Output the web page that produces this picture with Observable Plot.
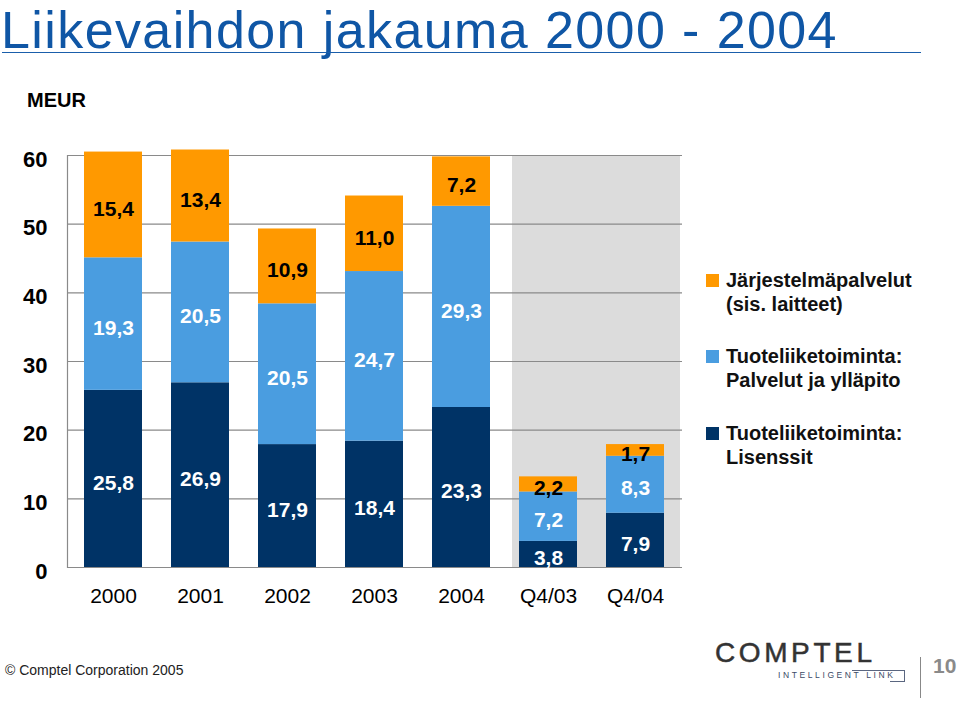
<!DOCTYPE html>
<html>
<head>
<meta charset="utf-8">
<script src="https://cdn.jsdelivr.net/npm/d3@7"></script>
<script src="https://cdn.jsdelivr.net/npm/@observablehq/plot@0.6"></script>
<style>
  html, body { margin: 0; padding: 0; background: #fff; }
  body { width: 960px; height: 701px; position: relative; overflow: hidden; font-family: "Liberation Sans", Arial, sans-serif; }
  .abs { position: absolute; white-space: nowrap; }
  #title { left: 1px; top: 4px; font-size: 52px; line-height: 52px; letter-spacing: 1.4px; color: #0f56a5; }
  #rule { left: 2px; top: 52px; width: 919px; height: 0; border-top: 1.5px solid #1a5eab; }
  #meur { left: 27px; top: 89px; font-size: 20px; font-weight: bold; color: #000; }
  #chart { position: absolute; left: 0; top: 0; }
  .leg { position: absolute; left: 706px; font-size: 20px; font-weight: bold; color: #111; line-height: 24px; }
  .leg .sw { position: absolute; left: 0; top: 6px; width: 13px; height: 13px; }
  .leg .tx { position: absolute; left: 20px; top: 0; white-space: nowrap; }
  #copy { left: 5px; top: 662px; font-size: 14px; color: #222; }
  #logo { left: 715px; top: 639px; font-size: 28px; line-height: 28px; color: #333; letter-spacing: 3.6px; -webkit-text-stroke: 0.5px #333; }
  #tag { left: 778px; top: 670px; font-size: 8.5px; line-height: 10px; color: #3b4a66; letter-spacing: 2.6px; }
  #box { left: 852px; top: 670px; width: 52px; height: 11px; border-top: 1px solid #5a6680; border-right: 1px solid #5a6680; }
  #boxb { left: 890px; top: 681px; width: 15px; height: 0; border-top: 1px solid #5a6680; }
  #sep { left: 920px; top: 657px; width: 0; height: 41px; border-left: 1px solid #888; }
  #page { left: 933px; top: 655px; font-size: 21px; line-height: 21px; font-weight: bold; color: #8a8a8a; }
</style>
</head>
<body>
<div id="chart"></div>
<div class="abs" id="title">Liikevaihdon jakauma 2000 - 2004</div>
<div class="abs" id="rule"></div>
<div class="abs" id="meur">MEUR</div>
<div id="legend"></div>
<div class="abs" id="copy">© Comptel Corporation 2005</div>
<div class="abs" id="logo">COMPTEL</div>
<div class="abs" id="tag">INTELLIGENT LINK</div>
<div class="abs" id="box"></div>
<div class="abs" id="boxb"></div>
<div class="abs" id="sep"></div>
<div class="abs" id="page">10</div>
<script>
// ---- data ----
const categories = ["2000", "2001", "2002", "2003", "2004", "Q4/03", "Q4/04"];
const seriesNames = ["Tuoteliiketoiminta: Lisenssit", "Tuoteliiketoiminta: Palvelut ja ylläpito", "Järjestelmäpalvelut (sis. laitteet)"];
const lisenssit = [25.8, 26.9, 17.9, 18.4, 23.3, 3.8, 7.9];
const palvelut = [19.3, 20.5, 20.5, 24.7, 29.3, 7.2, 8.3];
const jarjestelma = [15.4, 13.4, 10.9, 11.0, 7.2, 2.2, 1.7];
const yTicks = [0, 10, 20, 30, 40, 50, 60];
const quarterCats = ["Q4/03", "Q4/04"];
const legendLines = [
  ["Järjestelmäpalvelut", "(sis. laitteet)"],
  ["Tuoteliiketoiminta:", "Palvelut ja ylläpito"],
  ["Tuoteliiketoiminta:", "Lisenssit"]
];

const colors = ["#003366", "#4a9de0", "#ff9900"];

const rows = [];
categories.forEach((c, i) => {
  rows.push({cat: c, series: seriesNames[0], value: lisenssit[i]});
  rows.push({cat: c, series: seriesNames[1], value: palvelut[i]});
  rows.push({cat: c, series: seriesNames[2], value: jarjestelma[i]});
});
const fmt = v => v.toFixed(1).replace(".", ",");

const chart = Plot.plot({
  width: 960,
  height: 620,
  marginLeft: 67,
  marginRight: 278,
  marginTop: 155,
  marginBottom: 53,
  style: {fontFamily: "'Liberation Sans', Arial, sans-serif", background: "transparent", overflow: "visible"},
  x: {domain: categories, paddingInner: 0.33, paddingOuter: 0.165, align: 0.5, axis: null},
  y: {domain: [0, 60], axis: null},
  color: {domain: seriesNames, range: colors},
  marks: [
    Plot.barY([quarterCats[0]], {x: d => d, y1: 0, y2: 60, fill: "#dcdcdc", insetLeft: -7, insetRight: -15}),
    Plot.barY([quarterCats[1]], {x: d => d, y1: 0, y2: 60, fill: "#dcdcdc", insetLeft: -15, insetRight: -16}),
    Plot.ruleY(yTicks, {stroke: "#8a8a8a", strokeWidth: 1.2}),
    Plot.frame({anchor: "left", stroke: "#8a8a8a", strokeWidth: 1.2}),
    Plot.barY(rows, {x: "cat", y: "value", fill: "series", order: seriesNames}),
    Plot.text(rows.filter(r => r.series !== seriesNames[2]), Plot.stackY({
      x: "cat", y: "value", z: "series", order: seriesNames, text: d => fmt(d.value),
      fill: "white", fontSize: 21, fontWeight: "bold", dy: 4
    })),
    Plot.text(rows, Plot.stackY({
      x: "cat", y: "value", z: "series", order: seriesNames, text: d => d.series === seriesNames[2] ? fmt(d.value) : "",
      fill: "#000", fontSize: 21, fontWeight: "bold", dy: 4
    })),
    Plot.text(yTicks, {y: d => d, text: d => String(d), frameAnchor: "left", dx: -20, textAnchor: "end", fontSize: 22, fontWeight: "bold", fill: "#000", dy: 4}),
    Plot.text(categories, {x: d => d, text: d => d, frameAnchor: "bottom", dy: 35, fontSize: 21, fill: "#000"})
  ]
});
document.getElementById("chart").appendChild(chart);

// legend
const legend = document.getElementById("legend");
const legColors = [colors[2], colors[1], colors[0]];
const legTops = [268, 344, 421];
legendLines.forEach((lines, i) => {
  const d = document.createElement("div");
  d.className = "leg";
  d.style.top = legTops[i] + "px";
  const sw = document.createElement("div");
  sw.className = "sw";
  sw.style.background = legColors[i];
  d.appendChild(sw);
  const tx = document.createElement("div");
  tx.className = "tx";
  tx.innerHTML = lines.join("<br>");
  d.appendChild(tx);
  legend.appendChild(d);
});
</script>
</body>
</html>
